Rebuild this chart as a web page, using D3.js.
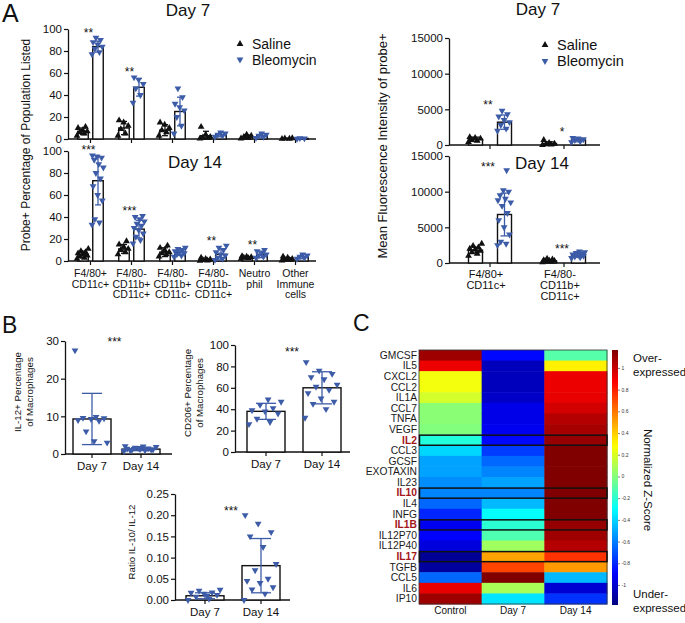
<!DOCTYPE html>
<html><head><meta charset="utf-8">
<script src="https://cdn.jsdelivr.net/npm/d3@7"></script>
<style>body{margin:0;background:#fff}</style>
</head><body><svg id="c" width="685" height="623"></svg>
<script>
// ---------- DATA ----------
const popGroups = ["F4/80+ CD11c+","F4/80- CD11b+ CD11c+","F4/80- CD11b+ CD11c-","F4/80- CD11b- CD11c+","Neutrophil","Other Immune cells"];
const popLabelLines = [["F4/80+","CD11c+"],["F4/80-","CD11b+","CD11c+"],["F4/80-","CD11b+","CD11c-"],["F4/80-","CD11b-","CD11c+"],["Neutro","phil"],["Other","Immune","cells"]];
const pctTicks = [0,20,40,60,80,100];

const salD7Mean = [7,10,8,3,2,0.5];
const salD7SD   = [3,6,5,4,1.5,0.3];
const bleD7Mean = [84,47,25,4,3,0.5];
const bleD7SD   = [5,8,13,2,2,0.3];
const salD7Pts = [[3,5,6,7,8,10,11],[3,5,9,12,15,17],[3,6,8,10,13,15],[0.5,1,1.5,2,4,11],[0.5,1,2,3,4],[0.1,0.3,0.5,0.7]];
const bleD7Pts = [[77,79,82,84,86,88,90,92],[33,40,46,50,54,56],[5,12,20,26,29,32,38,46],[2,3,4,5,6],[1,2,3,4,5],[0.2,0.5,0.8]];
const sigD7 = ["**","**","","","",""];

const salD14Mean = [6,11,8,1,3,2];
const salD14SD   = [3,4,4,1,1,1];
const bleD14Mean = [73,29,8,6,6,4];
const bleD14SD   = [22,8,3,5,3,2];
const salD14Pts = [[2,3,4,5,6,7,8,9,11],[6,8,10,11,13,15,18],[4,6,7,8,10,12,14],[0.3,0.5,1,1.5,2,3],[2,2.5,3,3.5,4,4.5],[0.5,1,1.5,2,3,4]];
const bleD14Pts = [[33,35,38,55,60,68,75,80,85,88,92,94,95,96],[16,19,22,25,28,30,32,34,36,38,40,41],[4,5,6,7,8,9,10,11,12],[1,2,3,5,6,8,10,12,14],[3,4,5,6,7,9,10],[2,3,4,5,6]];
const sigD14 = ["***","***","","**","**",""];

const mfiGroups = ["F4/80+ CD11c+","F4/80- CD11b+ CD11c+"];
const mfiLabelLines = [["F4/80+","CD11c+"],["F4/80-","CD11b+","CD11c+"]];
const mfiTicks = [0,5000,10000,15000];
const salMfiD7Mean = [800,200], salMfiD7SD = [300,250];
const bleMfiD7Mean = [3200,700], bleMfiD7SD = [1000,250];
const salMfiD7Pts = [[400,600,700,900,1000,1100],[0,50,100,200,300,700]];
const bleMfiD7Pts = [[2000,2300,2800,3200,3500,4000,4300,4800],[400,500,700,800,900,1000]];
const sigMfiD7 = ["**","*"];
const salMfiD14Mean = [1800,300], salMfiD14SD = [400,150];
const bleMfiD14Mean = [6800,1100], bleMfiD14SD = [3000,300];
const salMfiD14Pts = [[1000,1300,1500,1700,1900,2000,2200,2400,2700],[100,200,250,300,350,400,500,600]];
const bleMfiD14Pts = [[2500,2700,3000,4000,5000,6000,7000,8000,8500,9000,9500,10000,10200,8800,13000],[700,800,900,1000,1100,1200,1300,1400,1500,1600]];
const sigMfiD14 = ["***","***"];

const days = ["Day 7","Day 14"];
const il12Mean = [9.3,1.3], il12SD = [6.8,0.4];
const il12Pts = [[27.5,9.8,9.6,9.5,9.3,9.0,8.8,6.0,3.0,3.4],[0.8,1.0,1.1,1.2,1.3,1.4,1.5,1.7,1.9,2.0,1.0,1.2,1.6,2.1]];
const il12Ticks = [0,10,20,30];
const cd206Mean = [38,60], cd206SD = [7.5,15];
const cd206Pts = [[26,28,31,36,38,39,41,44,47,49],[32,40,45,47,50,55,58,61,63,68,70,73,76,84]];
const cd206Ticks = [0,20,40,60,80,100];
const ratioMean = [0.01,0.081], ratioSD = [0.007,0.064];
const ratioPts = [[0.0,0.003,0.008,0.012,0.015,0.017,0.018,0.022,0.024,0.01],[0.0,0.015,0.025,0.03,0.04,0.045,0.05,0.07,0.085,0.125,0.15,0.16,0.18,0.2]];
const ratioTicks = [0,0.05,0.10,0.15,0.20,0.25];

const cytokines = ["GMCSF","IL5","CXCL2","CCL2","IL1A","CCL7","TNFA","VEGF","IL2","CCL3","GCSF","EXOTAXIN","IL23","IL10","IL4","INFG","IL1B","IL12P70","IL12P40","IL17","TGFB","CCL5","IL6","IP10"];
const highlighted = ["IL2","IL10","IL1B","IL17"];
const heatCols = ["Control","Day 7","Day 14"];
const zControl = [1.10,0.92,0.26,0.26,0.19,0.02,0.02,0.0,-0.22,-0.39,-0.51,-0.51,-0.56,-0.58,-0.65,-0.80,-0.92,-0.89,-0.96,-1.13,-1.11,-0.65,0.93,1.10];
const zDay7    = [-0.87,-1.04,-1.04,-1.04,-1.01,-0.94,-0.94,-0.92,-0.87,-0.75,-0.65,-0.58,-0.51,-0.58,-0.46,-0.29,-0.20,-0.12,0.07,0.50,0.72,1.17,0.09,-0.36];
const zDay14   = [-0.10,0.32,0.92,0.92,0.93,0.98,1.05,1.08,1.12,1.17,1.2,1.2,1.2,1.17,1.2,1.2,1.12,1.10,1.05,0.76,0.52,-0.46,-0.99,-0.77];
const zTicks = [-1,-0.8,-0.6,-0.4,-0.2,0,0.2,0.4,0.6,0.8,1];

// ---------- DRAWING ----------
const FONT = '"Liberation Sans", Arial, Helvetica, sans-serif';
const BLUE = "#3d5ca8", INK = "#111";
const svg = d3.select("#c").attr("font-family", FONT);
svg.append("rect").attr("width",685).attr("height",623).attr("fill","#fff");

function txt(x,y,s,size,opts={}){
  const t = svg.append("text").attr("x",x).attr("y",y).attr("font-size",size).attr("fill",opts.fill||INK).text(s);
  if(opts.anchor) t.attr("text-anchor",opts.anchor);
  if(opts.rot!==undefined) t.attr("transform",`rotate(${opts.rot},${x},${y})`);
  if(opts.weight) t.attr("font-weight",opts.weight);
  return t;
}
function yAxis(x0,y,ticks,fs,fmt){
  const a = svg.append("g").attr("transform",`translate(${x0},0)`)
    .call(d3.axisLeft(y).tickValues(ticks).tickSize(4).tickSizeOuter(0).tickPadding(2).tickFormat(fmt||d3.format("d")));
  a.select(".domain").attr("stroke",INK).attr("stroke-width",1.3);
  a.selectAll(".tick line").attr("stroke",INK).attr("stroke-width",1.2);
  a.selectAll(".tick text").attr("font-size",fs).attr("fill",INK).attr("font-family",FONT);
}
function xAxis(x0,x1,y0,centers){
  svg.append("line").attr("x1",x0).attr("x2",x1).attr("y1",y0).attr("y2",y0).attr("stroke",INK).attr("stroke-width",1.3);
  centers.forEach(c=>svg.append("line").attr("x1",c).attr("x2",c).attr("y1",y0).attr("y2",y0+4).attr("stroke",INK).attr("stroke-width",1.2));
}
const triPath = d3.symbol().type(d3.symbolTriangle).size(20)();
function spread(j){ return ((j*0.618034)%1) - 0.5; }
function series(centers,y,means,sds,pts,color,down,barW,spreadW,capW){
  means.forEach((m,i)=>{
    const cx = centers[i];
    svg.append("rect").attr("x",cx-barW/2).attr("y",y(m)).attr("width",barW).attr("height",Math.max(0,y(0)-y(m)))
      .attr("fill","#fff").attr("stroke",INK).attr("stroke-width",1.4);
  });
  pts.forEach((arr,i)=>arr.forEach((v,j)=>{
    const px = centers[i]+spread(j)*spreadW;
    svg.append("path").attr("d",triPath).attr("fill",color)
      .attr("transform",`translate(${px},${y(v)})${down?" rotate(180)":""}`);
  }));
  means.forEach((m,i)=>{
    const cx = centers[i], lo=y(Math.max(0,m-sds[i])), hi=y(m+sds[i]);
    const g = svg.append("g").attr("stroke",color).attr("stroke-width",1.3);
    g.append("line").attr("x1",cx).attr("x2",cx).attr("y1",lo).attr("y2",hi);
    g.append("line").attr("x1",cx-capW/2).attr("x2",cx+capW/2).attr("y1",hi).attr("y2",hi);
    g.append("line").attr("x1",cx-capW/2).attr("x2",cx+capW/2).attr("y1",lo).attr("y2",lo);
  });
}
function sigMarks(centers,y,sigs,pts,size,dy){
  sigs.forEach((s,i)=>{ if(!s) return;
    const top = y(d3.max(pts[i]));
    txt(centers[i]-2, top-dy+7, s, size, {anchor:"middle"});
  });
}
function legend(x,y1,y2,fs){
  svg.append("path").attr("d",triPath).attr("fill",INK).attr("transform",`translate(${x},${y1})`);
  svg.append("path").attr("d",triPath).attr("fill",BLUE).attr("transform",`translate(${x},${y2}) rotate(180)`);
  txt(x+12,y1+5,"Saline",fs);
  txt(x+12,y2+5,"Bleomycin",fs);
}

// Panel letters
txt(2,22,"A",25); txt(2,333,"B",23); txt(353,331,"C",23);

// ---- Panel A left ----
const xPop = d3.scaleBand().domain(popGroups).range([70,316]);
const popC = popGroups.map(g=>xPop(g)+xPop.bandwidth()/2);
const salC = popC.map(c=>c-7.5), bleC = popC.map(c=>c+7.5);
const yP7 = d3.scaleLinear().domain([0,100]).range([139,29]);
const yP14 = d3.scaleLinear().domain([0,100]).range([261,151]);
txt(188,16,"Day 7",17,{anchor:"middle"});
yAxis(68,yP7,pctTicks,11.5); xAxis(68,316,139,popC);
series(salC,yP7,salD7Mean,salD7SD,salD7Pts,INK,false,10.5,12,6);
series(bleC,yP7,bleD7Mean,bleD7SD,bleD7Pts,BLUE,true,10.5,12,6);
sigMarks(popC,yP7,sigD7,bleD7Pts,12,8);
legend(240,44,59.5,14);

yAxis(68,yP14,pctTicks,11.5); xAxis(68,316,261,popC);
series(salC,yP14,salD14Mean,salD14SD,salD14Pts,INK,false,10.5,12,6);
series(bleC,yP14,bleD14Mean,bleD14SD,bleD14Pts,BLUE,true,10.5,12,6);
sigMarks(popC,yP14,sigD14,bleD14Pts,12,8);
txt(195,168,"Day 14",17,{anchor:"middle"});
popLabelLines.forEach((ls,i)=>ls.forEach((l,k)=>txt(popC[i],277+k*10.7,l,10.5,{anchor:"middle"})));
txt(30,145,"Probe+ Percentage  of Population Listed",12,{anchor:"middle",rot:-90});

// ---- Panel A right ----
const xM = d3.scaleBand().domain(mfiGroups).range([453,601]);
const mC = mfiGroups.map(g=>xM(g)+xM.bandwidth()/2);
const mSal = mC.map(c=>c-14.5), mBle = mC.map(c=>c+14.5);
const yM7 = d3.scaleLinear().domain([0,15000]).range([145,38]);
const yM14 = d3.scaleLinear().domain([0,15000]).range([263,156]);
txt(538,15,"Day 7",17,{anchor:"middle"});
yAxis(449,yM7,mfiTicks,11.5); xAxis(449,600,145,mC);
series(mSal,yM7,salMfiD7Mean,salMfiD7SD,salMfiD7Pts,INK,false,14,14,8);
series(mBle,yM7,bleMfiD7Mean,bleMfiD7SD,bleMfiD7Pts,BLUE,true,14,14,8);
sigMarks(mC,yM7,sigMfiD7,bleMfiD7Pts,12,9);
legend(545,45,61,14.5);
yAxis(449,yM14,mfiTicks,11.5); xAxis(449,600,263,mC);
series(mSal,yM14,salMfiD14Mean,salMfiD14SD,salMfiD14Pts,INK,false,14,14,8);
series(mBle,yM14,bleMfiD14Mean,bleMfiD14SD,bleMfiD14Pts,BLUE,true,14,14,8);
sigMarks(mC,yM14,sigMfiD14,bleMfiD14Pts,12,6);
txt(542,169,"Day 14",17,{anchor:"middle"});
mfiLabelLines.forEach((ls,i)=>ls.forEach((l,k)=>txt(mC[i]-4,278+k*11,l,11,{anchor:"middle"})));
txt(387,146,"Mean Fluorescence Intensity of probe+",13,{anchor:"middle",rot:-90});

// ---- Panel B ----
function bPanel(ax0,ax1,c0,c1,y,ticks,fmt,means,sds,pts,labY,sigDy){
  const cs = [c0,c1];
  yAxis(ax0,y,ticks,11.5,fmt); xAxis(ax0,ax1,y(0),cs);
  series(cs,y,means,sds,pts,BLUE,true,38,34,20);
  days.forEach((d,i)=>txt(cs[i],labY,d,11.5,{anchor:"middle"}));
  const top = y(d3.max(pts.flat()));
  txt((c0+c1)/2-2, top-sigDy+7, "***", 12, {anchor:"middle"});
}
const yIL = d3.scaleLinear().domain([0,30]).range([454,341]);
bPanel(65,172,92,141,yIL,il12Ticks,d3.format("d"),il12Mean,il12SD,il12Pts,470,11);
txt(21,392,"IL-12+ Percentage",9.7,{anchor:"middle",rot:-90});
txt(33,392,"of Macrophages",9.7,{anchor:"middle",rot:-90});
const yCD = d3.scaleLinear().domain([0,100]).range([452,345]);
bPanel(235,350,266,322,yCD,cd206Ticks,d3.format("d"),cd206Mean,cd206SD,cd206Pts,468,13);
txt(191,393,"CD206+ Percentage",9.7,{anchor:"middle",rot:-90});
txt(203,393,"of Macrophages",9.7,{anchor:"middle",rot:-90});
const yR = d3.scaleLinear().domain([0,0.25]).range([600,494]);
bPanel(175,290,205,261,yR,ratioTicks,d3.format(".2f"),ratioMean,ratioSD,ratioPts,616,7);
txt(135,542,"Ratio IL-10/ IL-12",9.7,{anchor:"middle",rot:-90});

// ---- Panel C heatmap ----
const zMin=-1.18, zMax=1.17;
function jet(t){
  t = Math.max(0,Math.min(1,t));
  const c = v=>Math.round(255*Math.max(0,Math.min(1,v)));
  return `rgb(${c(1.5-Math.abs(4*t-3))},${c(1.5-Math.abs(4*t-2))},${c(1.5-Math.abs(4*t-1))})`;
}
const zColor = v=>jet((v-zMin)/(zMax-zMin));
const hx = d3.scaleBand().domain(heatCols).range([419,607]);
const hy = d3.scaleBand().domain(cytokines).range([350,604]);
const zCols = [zControl,zDay7,zDay14];
heatCols.forEach((col,ci)=>cytokines.forEach((cy,ri)=>{
  svg.append("rect").attr("x",hx(col)).attr("y",hy(cy)).attr("width",hx.bandwidth()+0.5).attr("height",hy.bandwidth()+0.5)
    .attr("fill",zColor(zCols[ci][ri]));
}));
svg.append("rect").attr("x",419).attr("y",350).attr("width",188).attr("height",254).attr("fill","none").attr("stroke","#333").attr("stroke-width",0.8);
highlighted.forEach(h=>{
  svg.append("rect").attr("x",419.5).attr("y",hy(h)+0.5).attr("width",187.5).attr("height",hy.bandwidth()-0.5)
    .attr("fill","none").attr("stroke","#111").attr("stroke-width",1.5);
});
cytokines.forEach(cy=>{
  const hl = highlighted.includes(cy);
  txt(417,hy(cy)+hy.bandwidth()/2+3.6,cy,10.3,{anchor:"end",fill:hl?"#a3161a":"#1a1a1a",weight:hl?"bold":null});
});
heatCols.forEach(c=>txt(hx(c)+hx.bandwidth()/2,614,c,10,{anchor:"middle"}));

// colorbar
const zs = d3.scaleLinear().domain([zMin,zMax]).range([605,350]);
const grad = svg.append("defs").append("linearGradient").attr("id","jetg").attr("x1",0).attr("x2",0).attr("y1",1).attr("y2",0);
d3.range(0,1.0001,0.02).forEach(t=>grad.append("stop").attr("offset",t).attr("stop-color",jet(t)));
svg.append("rect").attr("x",612).attr("y",350).attr("width",6).attr("height",255).attr("fill","url(#jetg)");
zTicks.forEach(v=>{
  svg.append("line").attr("x1",618).attr("x2",620).attr("y1",zs(v)).attr("y2",zs(v)).attr("stroke","#333").attr("stroke-width",0.6);
  txt(621.5,zs(v)+1.5,String(v),5,{fill:"#333"});
});
txt(633,362,"Over-",11.5); txt(633,376,"expressed",11.5);
txt(633,598,"Under-",11.5); txt(633,612,"expressed",11.5);
txt(644,480,"Normalized Z-Score",11.5,{anchor:"middle",rot:90});
</script></body></html>
